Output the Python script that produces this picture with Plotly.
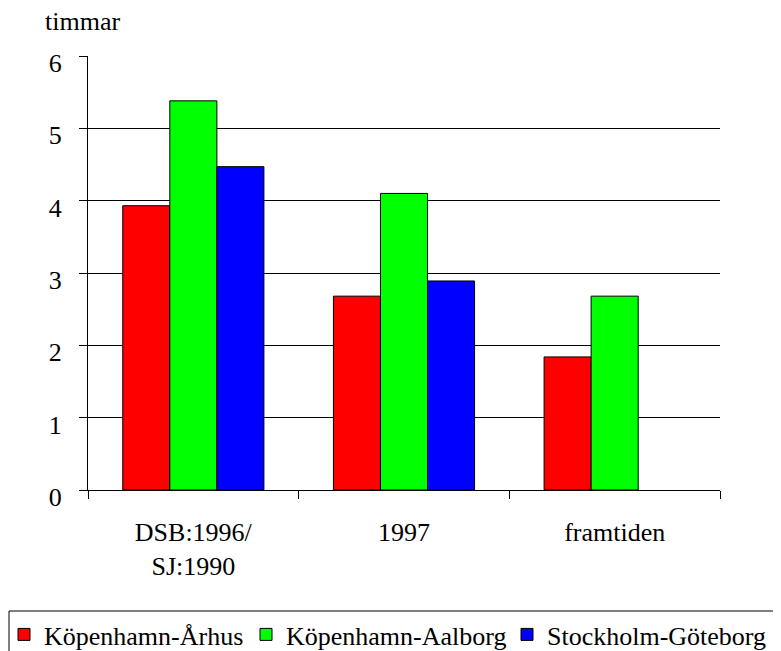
import plotly.graph_objects as go

categories = ["DSB:1996/<br>SJ:1990", "1997", "framtiden"]
series_names = ["Köpenhamn-Århus", "Köpenhamn-Aalborg", "Stockholm-Göteborg"]
kop_arhus = [3.93, 2.68, 1.84]
kop_aalborg = [5.38, 4.10, 2.68]
sth_gbg = [4.47, 2.89, None]
colors = ["#FF0000", "#00FF00", "#0000FF"]
y_ticks = [0, 1, 2, 3, 4, 5, 6]

FONT = "Liberation Serif"
FS = 26

# page body has an 8px default margin; compensate so the plot lands where the reference has it
OFF = 8
L, T, PW, PH = 80, 48, 632, 434


def px_to_xpaper(screen_x):
    return (screen_x - OFF - L) / PW


def px_to_ypaper(screen_y):
    return (OFF + T + PH - screen_y) / PH


legend_names = ["legend", "legend2", "legend3"]
legend_text_x = [45, 287, 548]

fig = go.Figure()
for name, vals, col, lg in zip(series_names, [kop_arhus, kop_aalborg, sth_gbg], colors, legend_names):
    fig.add_trace(go.Bar(
        x=categories, y=vals, name=name, legend=lg,
        marker=dict(color=col, line=dict(color="black", width=1)),
    ))

legend_layout = {}
for lg, tx in zip(legend_names, legend_text_x):
    legend_layout[lg] = dict(
        orientation="h", x=px_to_xpaper(tx - 41), xanchor="left",
        y=px_to_ypaper(611), yanchor="top",
        borderwidth=0, bgcolor="rgba(0,0,0,0)",
        font=dict(family=FONT, size=FS, color="black"),
    )

fig.update_layout(
    width=781, height=651,
    margin=dict(l=L, r=781 - L - PW, t=T, b=651 - T - PH, autoexpand=False),
    paper_bgcolor="white", plot_bgcolor="white",
    barmode="group", bargap=0.33, bargroupgap=0,
    font=dict(family=FONT, size=FS, color="black"),
    showlegend=True,
    xaxis=dict(
        type="category", tickson="boundaries",
        ticks="outside", ticklen=8, tickcolor="black", tickwidth=1,
        showline=True, linecolor="black", linewidth=1,
        showgrid=False, ticklabelstandoff=19,
        tickfont=dict(family=FONT, size=FS, color="black"),
    ),
    yaxis=dict(
        range=[0, 6], tickvals=y_ticks, ticktext=[str(v) for v in y_ticks],
        ticks="outside", ticklen=8, tickcolor="black", tickwidth=1,
        showline=True, linecolor="black", linewidth=1,
        showgrid=True, gridcolor="black", gridwidth=1,
        zeroline=True, zerolinecolor="black", zerolinewidth=1,
        ticklabelstandoff=12, ticklabelshift=7,
        tickfont=dict(family=FONT, size=FS, color="black"),
    ),
    annotations=[dict(
        text="timmar", xref="paper", yref="paper",
        x=px_to_xpaper(43), y=px_to_ypaper(5),
        xanchor="left", yanchor="top", showarrow=False,
        font=dict(family=FONT, size=FS, color="black"),
    )],
    shapes=[dict(
        type="rect", xref="paper", yref="paper", layer="below",
        x0=px_to_xpaper(9), x1=px_to_xpaper(800),
        y0=px_to_ypaper(611), y1=px_to_ypaper(700),
        line=dict(color="black", width=1), fillcolor="rgba(0,0,0,0)",
    )],
    **legend_layout,
)

fig.write_html("out.html")
